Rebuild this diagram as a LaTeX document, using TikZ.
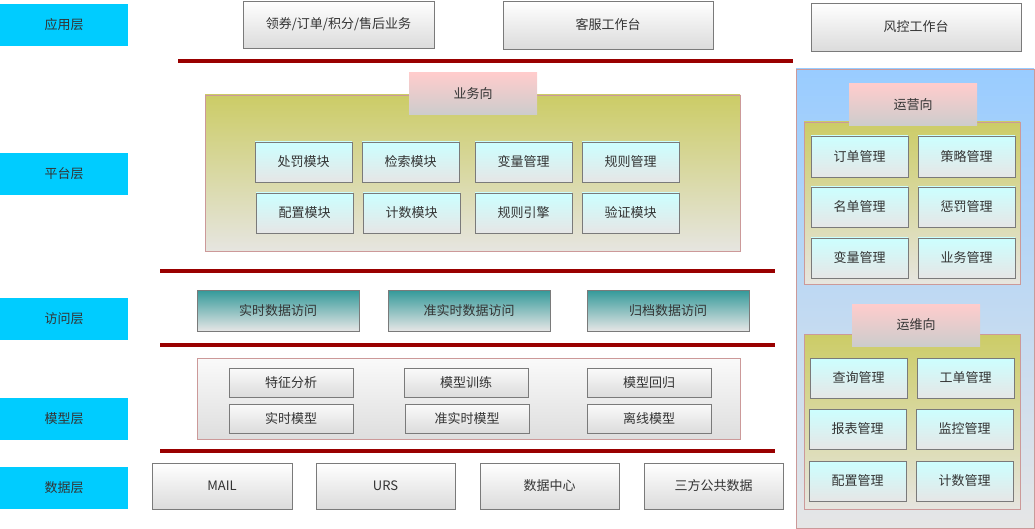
\documentclass[tikz,border=0pt]{standalone}
\usepackage{fontspec}
\setmainfont{Noto Sans CJK SC}
\begin{document}
\definecolor{layercyan}{HTML}{00CCFF}
\definecolor{sepred}{HTML}{990000}
\definecolor{edgegray}{HTML}{7A7A7A}
\definecolor{edgepink}{HTML}{CC9999}
\definecolor{txt}{HTML}{333333}
\tikzset{
  base/.style={inner sep=0pt, outer sep=0pt, text=txt, font=\fontsize{13}{15}\selectfont},
  layer/.style={base, fill=layercyan},
  appbox/.style={base, draw=edgegray, line width=0.9pt, top color=white, bottom color=black!14},
  bigbox/.style={base, draw=edgepink, line width=0.9pt, top color={rgb,255:red,204;green,204;blue,102}, bottom color={rgb,255:red,230;green,229;blue,224}},
  tabbox/.style={base, top color={rgb,255:red,255;green,204;blue,204}, bottom color={rgb,255:red,204;green,204;blue,204}},
  modbox/.style={base, draw=edgegray, line width=0.9pt, top color={rgb,255:red,204;green,255;blue,255}, bottom color={rgb,255:red,230;green,230;blue,230}},
  accbox/.style={base, draw=edgegray, line width=0.9pt, top color={rgb,255:red,51;green,153;blue,153}, bottom color={rgb,255:red,230;green,230;blue,230}},
  panel/.style={base, draw=edgepink, line width=0.9pt, top color={rgb,255:red,153;green,204;blue,255}, bottom color={rgb,255:red,230;green,230;blue,230}},
  modelarea/.style={base, draw=edgepink, line width=0.9pt, top color={rgb,255:red,250;green,250;blue,250}, bottom color={rgb,255:red,222;green,222;blue,222}},
  modelbox/.style={base, draw=edgegray, line width=0.9pt, top color={rgb,255:red,250;green,250;blue,250}, bottom color={rgb,255:red,220;green,220;blue,220}},
  sep/.style={draw=sepred, line width=4pt}
}
% box from its corners: style, name, x1, y1, x2, y2, text
\newcommand\mkbox[7]{\node[#1, minimum width={#5-#3}, minimum height={#6-#4}] (#2) at ({(#3+#5)/2},{(#4+#6)/2}) {#7};}
\begin{tikzpicture}[x=1pt, y=-1pt]
\useasboundingbox (0,0) rectangle (1035,529);

% layer labels
\mkbox{layer}{lapp}{0}{4}{128}{46}{应用层}
\mkbox{layer}{lplat}{0}{153}{128}{195}{平台层}
\mkbox{layer}{lacc}{0}{298}{128}{340}{访问层}
\mkbox{layer}{lmod}{0}{398}{128}{440}{模型层}
\mkbox{layer}{ldata}{0}{467}{128}{509}{数据层}

% application layer
\mkbox{appbox}{a1}{243}{1}{434}{48}{领券/订单/积分/售后业务}
\mkbox{appbox}{a2}{503}{1}{713}{49}{客服工作台}
\mkbox{appbox}{a3}{811}{3}{1021}{51}{风控工作台}

% separators
\coordinate (s1a) at (178,61); \coordinate (s1b) at (793,61);
\coordinate (s2a) at (160,271); \coordinate (s2b) at (775,271);
\coordinate (s3a) at (160,345); \coordinate (s3b) at (775,345);
\coordinate (s4a) at (160,451); \coordinate (s4b) at (775,451);
\draw[sep] (s1a) -- (s1b);
\draw[sep] (s2a) -- (s2b);
\draw[sep] (s3a) -- (s3b);
\draw[sep] (s4a) -- (s4b);

% platform layer, business side
\mkbox{bigbox}{biz}{205}{95}{740}{251}{}
\mkbox{tabbox}{biztab}{409}{73}{537}{115}{业务向}
\mkbox{modbox}{m11}{255}{142}{352}{182}{处罚模块}
\mkbox{modbox}{m12}{362}{142}{459}{182}{检索模块}
\mkbox{modbox}{m13}{475}{142}{572}{182}{变量管理}
\mkbox{modbox}{m14}{582}{142}{679}{182}{规则管理}
\mkbox{modbox}{m21}{256}{193}{353}{233}{配置模块}
\mkbox{modbox}{m22}{363}{193}{460}{233}{计数模块}
\mkbox{modbox}{m23}{475}{193}{572}{233}{规则引擎}
\mkbox{modbox}{m24}{582}{193}{679}{233}{验证模块}

% right panel: operations and maintenance
\mkbox{panel}{rp}{796}{69}{1034}{528}{}
\mkbox{bigbox}{ops}{804}{122}{1020}{284}{}
\mkbox{tabbox}{opstab}{849}{84}{977}{126}{运营向}
\mkbox{modbox}{o11}{811}{136}{908}{177}{订单管理}
\mkbox{modbox}{o12}{918}{136}{1015}{177}{策略管理}
\mkbox{modbox}{o21}{811}{187}{908}{227}{名单管理}
\mkbox{modbox}{o22}{918}{187}{1015}{227}{惩罚管理}
\mkbox{modbox}{o31}{811}{238}{908}{278}{变量管理}
\mkbox{modbox}{o32}{918}{238}{1015}{278}{业务管理}

\mkbox{bigbox}{dev}{804}{334}{1020}{509}{}
\mkbox{tabbox}{devtab}{852}{304}{980}{346}{运维向}
\mkbox{modbox}{d11}{810}{358}{907}{398}{查询管理}
\mkbox{modbox}{d12}{917}{358}{1014}{398}{工单管理}
\mkbox{modbox}{d21}{809}{409}{906}{449}{报表管理}
\mkbox{modbox}{d22}{916}{409}{1013}{449}{监控管理}
\mkbox{modbox}{d31}{809}{461}{906}{501}{配置管理}
\mkbox{modbox}{d32}{916}{461}{1013}{501}{计数管理}

% access layer
\mkbox{accbox}{ac1}{197}{290}{359}{331}{实时数据访问}
\mkbox{accbox}{ac2}{388}{290}{550}{331}{准实时数据访问}
\mkbox{accbox}{ac3}{587}{290}{749}{331}{归档数据访问}

% model layer
\mkbox{modelarea}{mdl}{197}{358}{740}{439}{}
\mkbox{modelbox}{md11}{229}{368}{353}{397}{特征分析}
\mkbox{modelbox}{md12}{404}{368}{528}{397}{模型训练}
\mkbox{modelbox}{md13}{587}{368}{711}{397}{模型回归}
\mkbox{modelbox}{md21}{229}{404}{353}{433}{实时模型}
\mkbox{modelbox}{md22}{405}{404}{529}{433}{准实时模型}
\mkbox{modelbox}{md23}{587}{404}{711}{433}{离线模型}

% data layer
\mkbox{appbox}{ds1}{152}{463}{292}{509}{MAIL}
\mkbox{appbox}{ds2}{316}{463}{455}{509}{URS}
\mkbox{appbox}{ds3}{480}{463}{619}{509}{数据中心}
\mkbox{appbox}{ds4}{644}{463}{783}{509}{三方公共数据}
\end{tikzpicture}
\end{document}
